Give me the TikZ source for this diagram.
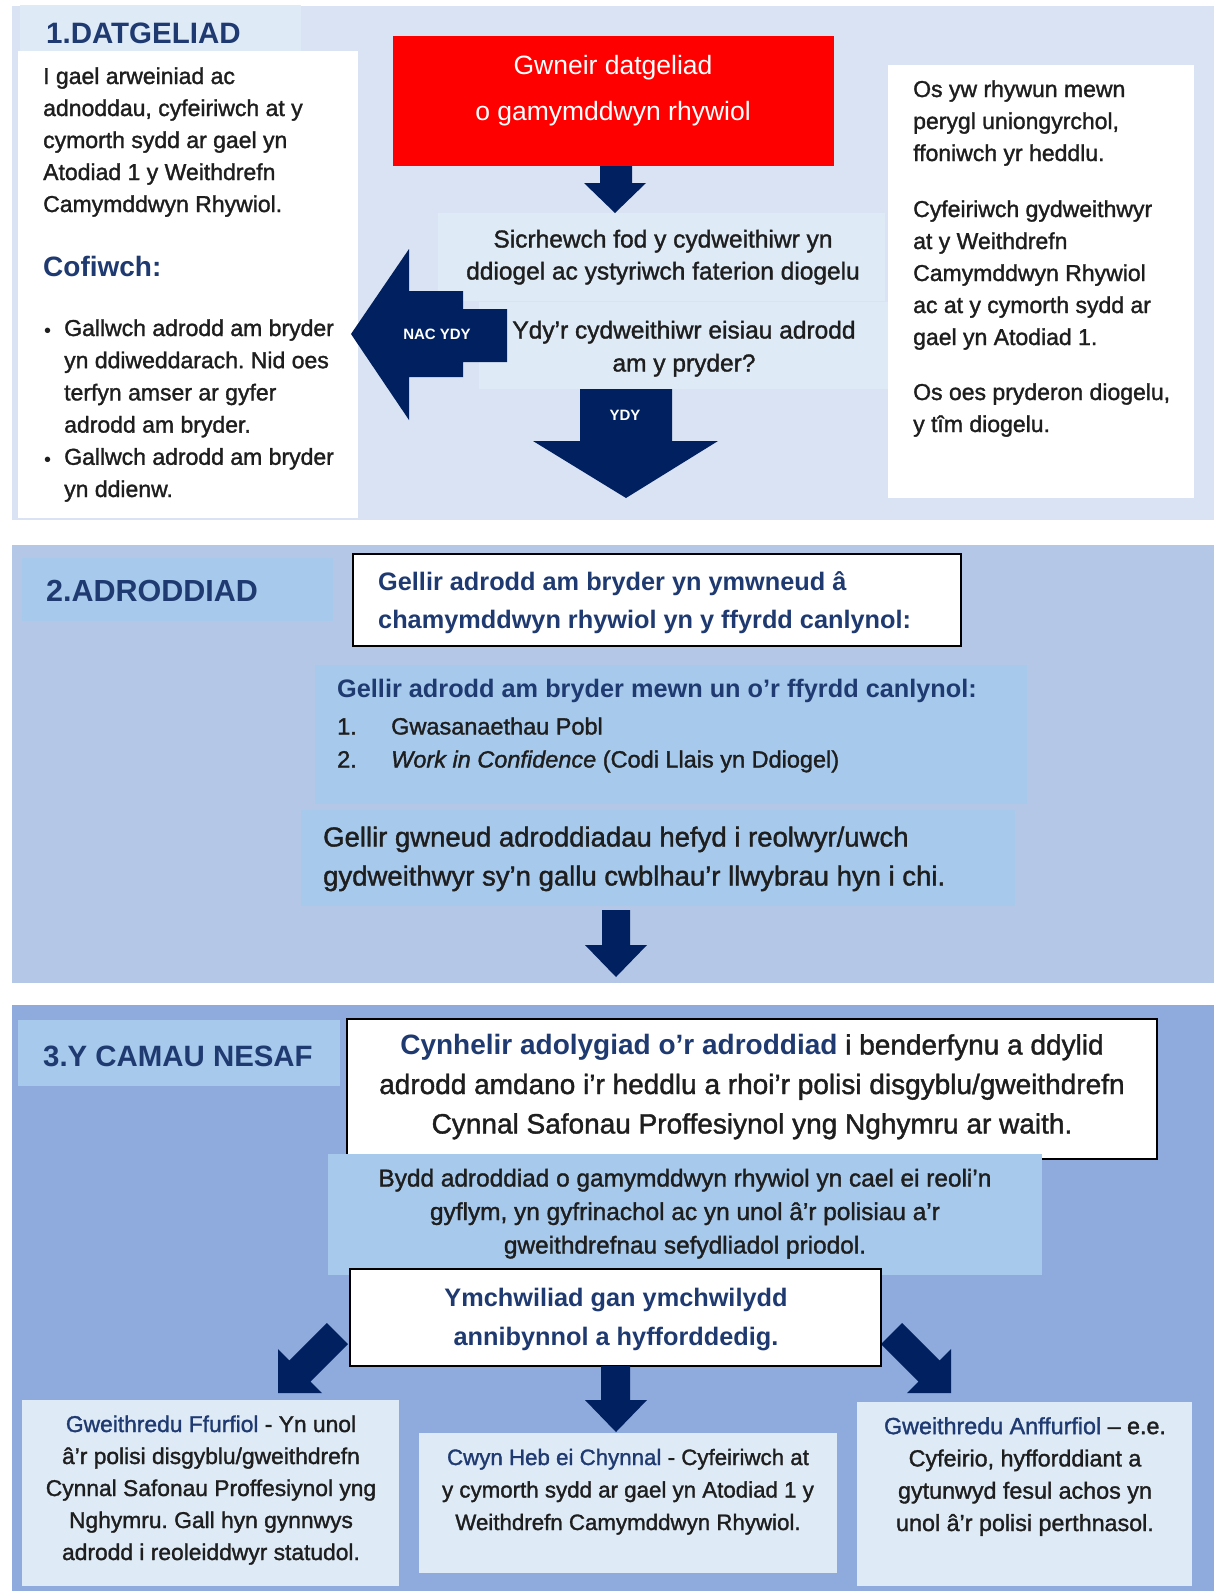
\documentclass[tikz,border=0pt]{standalone}
\usepackage{fontspec}
\setmainfont{Liberation Sans}
\newfontfamily\medfont{Liberation Sans}[Ligatures=TeX, FakeBold=1.4]
\definecolor{navy}{HTML}{002060}
\definecolor{navytext}{HTML}{1F3A70}
\definecolor{bodytext}{HTML}{1E1E1E}
\definecolor{bgone}{HTML}{DAE3F3}
\definecolor{bgtwo}{HTML}{B4C7E7}
\definecolor{bgthree}{HTML}{8FAADC}
\definecolor{paleblue}{HTML}{DEEBF7}
\definecolor{midblue}{HTML}{A7C9EC}
\definecolor{redbox}{HTML}{FF0000}
\tikzset{
  panel/.style={draw=none, inner sep=0pt, outer sep=0pt, anchor=north west},
  framed/.style={panel, draw=black, line width=1.6pt, fill=white},
  blockarrow/.style={fill=navy, draw=none},
  body/.style={inner sep=0pt, text=bodytext, font={\medfont\frenchspacing\fontsize{23}{32}\selectfont}},
  head/.style={inner sep=0pt, text=navytext, font={\fontsize{29.5}{34}\selectfont\bfseries}, anchor=base west},
  arrowlabel/.style={inner sep=0pt, text=white, font={\fontsize{15}{18}\selectfont\bfseries}},
}
\begin{document}
\begin{tikzpicture}[x=1pt,y=-1pt]
\useasboundingbox (0,0) rectangle (1214,1591);
\fill[white] (0,0) rectangle (1214,1591);

% ---------------- Section 1 ----------------
\node[panel, fill=bgone, minimum width=1202, minimum height=514] (sec1) at (12,6) {};
\node[panel, fill=paleblue, minimum width=281, minimum height=46] (h1box) at (20,5) {};
\node[panel, fill=white, minimum width=340, minimum height=467] (leftbox) at (18,51) {};
\node[head] (h1) at (46,43) {1.DATGELIAD};

% multi-line nodes: anchor base = baseline of the last line
\node[body, anchor=base west, align=left] (lefttext) at (43,212)
  {I gael arweiniad ac\\adnoddau, cyfeiriwch at y\\cymorth sydd ar gael yn\\Atodiad 1 y Weithdrefn\\Camymddwyn Rhywiol.};
\node[inner sep=0pt, anchor=base west, text=navytext, font={\fontsize{28}{32}\selectfont\bfseries}] (cofiwch) at (43,276) {Cofiwch:};
\node[body, anchor=base west, font={\fontsize{20}{32}\selectfont}] (b1) at (44,337) {•};
\node[body, anchor=base west, align=left, font={\medfont\frenchspacing\fontsize{23}{32.2}\selectfont}] (bullet1) at (64,432.6)
  {Gallwch adrodd am bryder\\yn ddiweddarach. Nid oes\\terfyn amser ar gyfer\\adrodd am bryder.};
\node[body, anchor=base west, font={\fontsize{20}{32}\selectfont}] (b2) at (44,466) {•};
\node[body, anchor=base west, align=left, font={\medfont\frenchspacing\fontsize{23}{32.2}\selectfont}] (bullet2) at (64,497)
  {Gallwch adrodd am bryder\\yn ddienw.};

\node[panel, fill=redbox, minimum width=441, minimum height=130] (red) at (393,36) {};
\node[inner sep=0pt, anchor=base, align=center, text=white, font={\fontsize{26.5}{46}\selectfont}] (redtext) at (613,120)
  {Gwneir datgeliad\\o gamymddwyn rhywiol};

\node[panel, fill=paleblue, minimum width=447, minimum height=88] (ensure) at (438,213) {};
\node[panel, fill=paleblue, minimum width=410, minimum height=87] (ask) at (479,302) {};
\node[body, anchor=base, align=center, font={\medfont\fontsize{24.5}{32}\selectfont}] (ensuretext) at (663,279.5)
  {Sicrhewch fod y cydweithiwr yn\\ddiogel ac ystyriwch faterion diogelu};
\node[body, anchor=base, align=center, font={\medfont\fontsize{24.5}{33}\selectfont}] (asktext) at (684,371.5)
  {Ydy'r cydweithiwr eisiau adrodd\\am y pryder?};

% arrows of section 1
\fill[blockarrow] (600,166) -- (632,166) -- (632,183) -- (646,183) -- (615,213) -- (584,183) -- (600,183) -- cycle;
\fill[blockarrow] (351,334) -- (409,249) -- (409,291) -- (463,291) -- (463,309) -- (507,309) -- (507,362) -- (463,362) -- (463,377) -- (409,377) -- (409,420) -- cycle;
\node[arrowlabel] (nac) at (437,334) {NAC YDY};
\fill[blockarrow] (580,389) -- (672,389) -- (672,441) -- (718,441) -- (626,498) -- (533,441) -- (580,441) -- cycle;
\node[arrowlabel] (ydy) at (625,415) {YDY};

\node[panel, fill=white, minimum width=306, minimum height=433] (rightbox) at (888,65) {};
\node[body, anchor=base west, align=left] (right1) at (913,161)
  {Os yw rhywun mewn\\perygl uniongyrchol,\\ffoniwch yr heddlu.};
\node[body, anchor=base west, align=left] (right2) at (913,345)
  {Cyfeiriwch gydweithwyr\\at y Weithdrefn\\Camymddwyn Rhywiol\\ac at y cymorth sydd ar\\gael yn Atodiad 1.};
\node[body, anchor=base west, align=left] (right3) at (913,432)
  {Os oes pryderon diogelu,\\y tîm diogelu.};

% ---------------- Section 2 ----------------
\node[panel, fill=bgtwo, minimum width=1202, minimum height=438] (sec2) at (12,545) {};
\node[panel, fill=midblue, minimum width=311, minimum height=63] (h2box) at (22,558) {};
\node[head, font={\fontsize{30.5}{34}\selectfont\bfseries}] (h2) at (46,601) {2.ADRODDIAD};
\node[framed, minimum width=608, minimum height=92] (ways) at (353,554) {};
\node[inner sep=0pt, anchor=base west, align=left, text=navytext, font={\fontsize{25.3}{38}\selectfont\bfseries}] (waystext) at (378,628)
  {Gellir adrodd am bryder yn ymwneud â\\chamymddwyn rhywiol yn y ffyrdd canlynol:};
\node[panel, fill=midblue, minimum width=712, minimum height=139] (routes) at (315,665) {};
\node[inner sep=0pt, anchor=base west, text=navytext, font={\fontsize{25.3}{30}\selectfont\bfseries}] (routeshead) at (337,697)
  {Gellir adrodd am bryder mewn un o'r ffyrdd canlynol:};
\node[body, anchor=base west, align=left, font={\medfont\fontsize{23.5}{33}\selectfont}] (nums) at (337,767.5) {1.\\2.};
\node[body, anchor=base west, align=left, font={\medfont\fontsize{23.5}{33}\selectfont}] (routeitems) at (391,767.5)
  {Gwasanaethau Pobl\\\textit{Work in Confidence} (Codi Llais yn Ddiogel)};
\node[panel, fill=midblue, minimum width=714, minimum height=96] (managers) at (301,810) {};
\node[body, anchor=base west, align=left, font={\medfont\fontsize{27.5}{39}\selectfont}] (managerstext) at (323,885.5)
  {Gellir gwneud adroddiadau hefyd i reolwyr/uwch\\gydweithwyr sy'n gallu cwblhau'r llwybrau hyn i chi.};
\fill[blockarrow] (602,910) -- (630,910) -- (630,945) -- (647,945) -- (616,977) -- (585,945) -- (602,945) -- cycle;

% ---------------- Section 3 ----------------
\node[panel, fill=bgthree, minimum width=1202, minimum height=586] (sec3) at (12,1005) {};
\node[panel, fill=midblue, minimum width=322, minimum height=66] (h3box) at (18,1020) {};
\node[head, font={\fontsize{29.4}{34}\selectfont\bfseries}] (h3) at (43,1066) {3.Y CAMAU NESAF};
\node[framed, minimum width=810, minimum height=140] (review) at (347,1019) {};
\node[body, anchor=base, align=center, font={\medfont\fontsize{28}{39.5}\selectfont}] (reviewtext) at (752,1133.5)
  {{\normalfont\color{navytext}\bfseries Cynhelir adolygiad o'r adroddiad} i benderfynu a ddylid\\adrodd amdano i'r heddlu a rhoi'r polisi disgyblu/gweithdrefn\\Cynnal Safonau Proffesiynol yng Nghymru ar waith.};
\node[panel, fill=midblue, minimum width=714, minimum height=121] (managed) at (328,1154) {};
\node[body, anchor=base, align=center, font={\medfont\fontsize{24.4}{33.5}\selectfont}] (managedtext) at (685,1253.5)
  {Bydd adroddiad o gamymddwyn rhywiol yn cael ei reoli'n\\gyflym, yn gyfrinachol ac yn unol â'r polisiau a'r\\gweithdrefnau sefydliadol priodol.};

\fill[blockarrow] (278,1393) -- (322,1393) -- (310.5,1381.7) -- (348,1344.2) -- (326.8,1323) -- (289.3,1360.5) -- (278,1349.2) -- cycle;
\fill[blockarrow] (951,1393) -- (951,1349.2) -- (939.7,1360.5) -- (902.2,1323) -- (881,1344.2) -- (918.5,1381.7) -- (907.2,1393) -- cycle;

\node[framed, minimum width=531, minimum height=97] (investigate) at (350,1269) {};
\node[inner sep=0pt, anchor=base, align=center, text=navytext, font={\fontsize{25.3}{39}\selectfont\bfseries}] (investigatetext) at (616,1345)
  {Ymchwiliad gan ymchwilydd\\annibynnol a hyfforddedig.};
\fill[blockarrow] (601,1366) -- (630,1366) -- (630,1400) -- (647,1400) -- (616,1432) -- (585,1400) -- (601,1400) -- cycle;

\node[panel, fill=paleblue, minimum width=377, minimum height=186] (formal) at (22,1400) {};
\node[body, anchor=base, align=center, font={\medfont\frenchspacing\fontsize{22.8}{32}\selectfont}] (formaltext) at (211,1560)
  {{\color{navytext}Gweithredu Ffurfiol} - Yn unol\\â'r polisi disgyblu/gweithdrefn\\Cynnal Safonau Proffesiynol yng\\Nghymru. Gall hyn gynnwys\\adrodd i reoleiddwyr statudol.};
\node[panel, fill=paleblue, minimum width=418, minimum height=140] (unfounded) at (419,1433) {};
\node[body, anchor=base, align=center, font={\medfont\fontsize{22.3}{32.5}\selectfont}] (unfoundedtext) at (628,1530)
  {{\color{navytext}Cwyn Heb ei Chynnal} - Cyfeiriwch at\\y cymorth sydd ar gael yn Atodiad 1 y\\Weithdrefn Camymddwyn Rhywiol.};
\node[panel, fill=paleblue, minimum width=335, minimum height=184] (informal) at (857,1402) {};
\node[body, anchor=base, align=center, font={\medfont\fontsize{23.3}{32.3}\selectfont}] (informaltext) at (1025,1531)
  {{\color{navytext}Gweithredu Anffurfiol} – e.e.\\Cyfeirio, hyfforddiant a\\gytunwyd fesul achos yn\\unol â'r polisi perthnasol.};
\end{tikzpicture}
\end{document}
